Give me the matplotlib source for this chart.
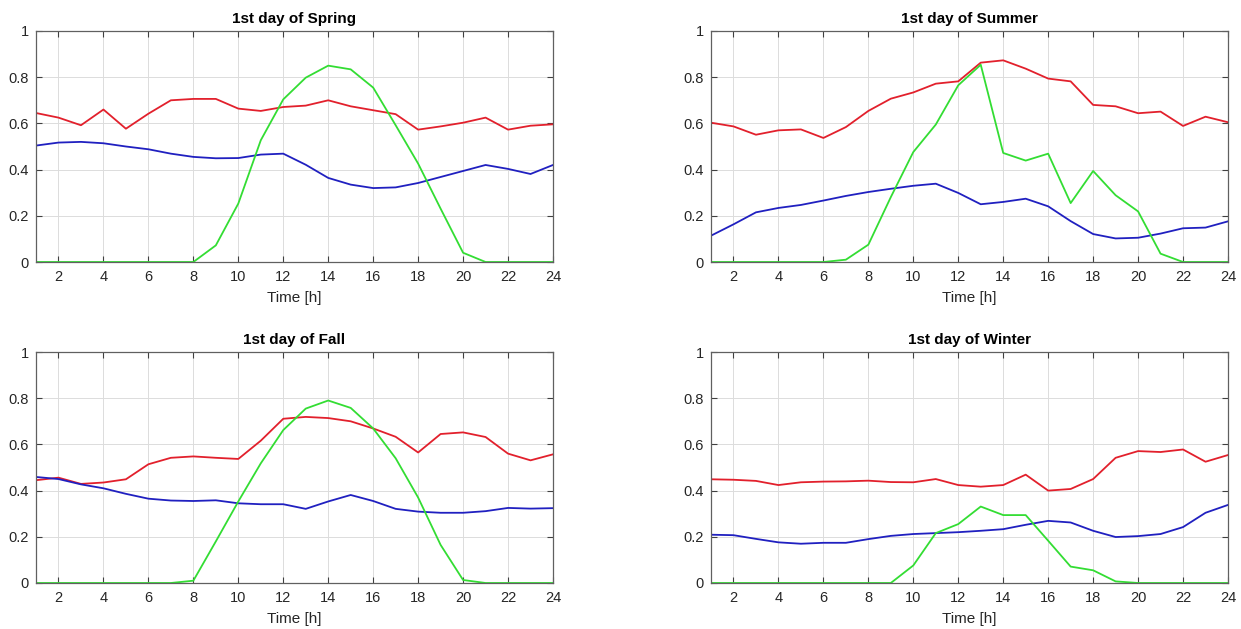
import matplotlib
matplotlib.use("Agg")
import matplotlib.pyplot as plt
import numpy as np

hours = list(range(1, 25))

titles = ["1st day of Spring", "1st day of Summer", "1st day of Fall", "1st day of Winter"]

# red series
spring_red = [0.645, 0.625, 0.592, 0.66, 0.577, 0.642, 0.70, 0.706, 0.706, 0.664, 0.654, 0.671,
              0.677, 0.70, 0.674, 0.657, 0.64, 0.573, 0.587, 0.603, 0.625, 0.573, 0.59, 0.596]
summer_red = [0.603, 0.587, 0.551, 0.57, 0.574, 0.537, 0.584, 0.654, 0.707, 0.734, 0.772, 0.782,
              0.863, 0.873, 0.837, 0.794, 0.782, 0.68, 0.674, 0.644, 0.651, 0.589, 0.629, 0.605]
fall_red = [0.445, 0.456, 0.429, 0.435, 0.449, 0.514, 0.542, 0.548, 0.542, 0.537, 0.616, 0.711,
            0.719, 0.714, 0.70, 0.669, 0.633, 0.565, 0.645, 0.652, 0.632, 0.56, 0.531, 0.557]
winter_red = [0.449, 0.447, 0.442, 0.424, 0.436, 0.439, 0.44, 0.443, 0.437, 0.436, 0.45, 0.424,
              0.417, 0.424, 0.469, 0.40, 0.407, 0.45, 0.542, 0.571, 0.567, 0.578, 0.525, 0.554]

# blue series
spring_blue = [0.504, 0.517, 0.52, 0.514, 0.50, 0.488, 0.469, 0.455, 0.449, 0.45, 0.465, 0.469,
               0.421, 0.364, 0.335, 0.32, 0.323, 0.342, 0.368, 0.394, 0.42, 0.403, 0.381, 0.42]
summer_blue = [0.114, 0.163, 0.215, 0.234, 0.247, 0.266, 0.286, 0.303, 0.317, 0.33, 0.339, 0.299,
               0.25, 0.26, 0.274, 0.241, 0.177, 0.121, 0.102, 0.105, 0.123, 0.146, 0.149, 0.176]
fall_blue = [0.459, 0.45, 0.427, 0.41, 0.386, 0.365, 0.357, 0.355, 0.358, 0.345, 0.341, 0.341,
             0.321, 0.353, 0.381, 0.355, 0.321, 0.309, 0.304, 0.304, 0.311, 0.325, 0.322, 0.324]
winter_blue = [0.209, 0.207, 0.191, 0.176, 0.17, 0.174, 0.174, 0.19, 0.204, 0.212, 0.216, 0.22,
               0.226, 0.233, 0.252, 0.269, 0.262, 0.226, 0.199, 0.203, 0.212, 0.242, 0.304, 0.338]

# green series
spring_green = [0, 0, 0, 0, 0, 0, 0, 0, 0.072, 0.253, 0.527, 0.704,
                0.798, 0.85, 0.834, 0.755, 0.592, 0.426, 0.231, 0.04, 0, 0, 0, 0]
summer_green = [0, 0, 0, 0, 0, 0, 0.01, 0.075, 0.281, 0.476, 0.595, 0.765,
                0.854, 0.472, 0.439, 0.469, 0.255, 0.394, 0.289, 0.219, 0.036, 0, 0, 0]
fall_green = [0, 0, 0, 0, 0, 0, 0, 0.01, 0.18, 0.353, 0.518, 0.662,
              0.755, 0.79, 0.758, 0.669, 0.54, 0.37, 0.165, 0.013, 0, 0, 0, 0]
winter_green = [0, 0, 0, 0, 0, 0, 0, 0, 0, 0.076, 0.216, 0.255,
                0.331, 0.294, 0.294, 0.183, 0.071, 0.055, 0.007, 0, 0, 0, 0, 0]

reds = [spring_red, summer_red, fall_red, winter_red]
blues = [spring_blue, summer_blue, fall_blue, winter_blue]
greens = [spring_green, summer_green, fall_green, winter_green]

plt.rcParams['font.family'] = ['Liberation Sans', 'DejaVu Sans']

fig = plt.figure(figsize=(12.41, 6.29), dpi=100)

W, H = 1241.0, 629.0
# axes boxes in pixels: left, top, right, bottom
boxes = [(36, 31, 553, 262), (711, 31, 1228, 262),
         (36, 352, 553, 583), (711, 352, 1228, 583)]

for i, (l, t, r, b) in enumerate(boxes):
    ax = fig.add_axes([l / W, 1 - b / H, (r - l) / W, (b - t) / H])
    ax.plot(hours, reds[i], color='#e2202c', lw=1.3)
    ax.plot(hours, blues[i], color='#2020c0', lw=1.3)
    ax.plot(hours, greens[i], color='#33dd33', lw=1.3)
    ax.set_xlim(1, 24)
    ax.set_ylim(0, 1)
    ax.set_xticks(range(2, 25, 2))
    ax.set_yticks([0, 0.2, 0.4, 0.6, 0.8, 1])
    ax.set_yticklabels(['0', '0.2', '0.4', '0.6', '0.8', '1'])
    ax.grid(True, color='#dcdcdc', lw=0.7)
    ax.set_axisbelow(True)
    ax.tick_params(direction='in', top=True, right=True, length=4, width=0.8,
                   colors='#404040', labelsize=10.5, labelcolor='#262626')
    ax.tick_params(axis='x', pad=6)
    ax.tick_params(axis='y', pad=5)
    for s in ax.spines.values():
        s.set_color('#606060')
        s.set_linewidth(0.9)
    ax.set_title(titles[i], fontsize=11, fontweight='bold', pad=6)
    ax.set_xlabel("Time [h]", fontsize=11, color='#262626', labelpad=5)

fig.savefig("out.png", dpi=100)
